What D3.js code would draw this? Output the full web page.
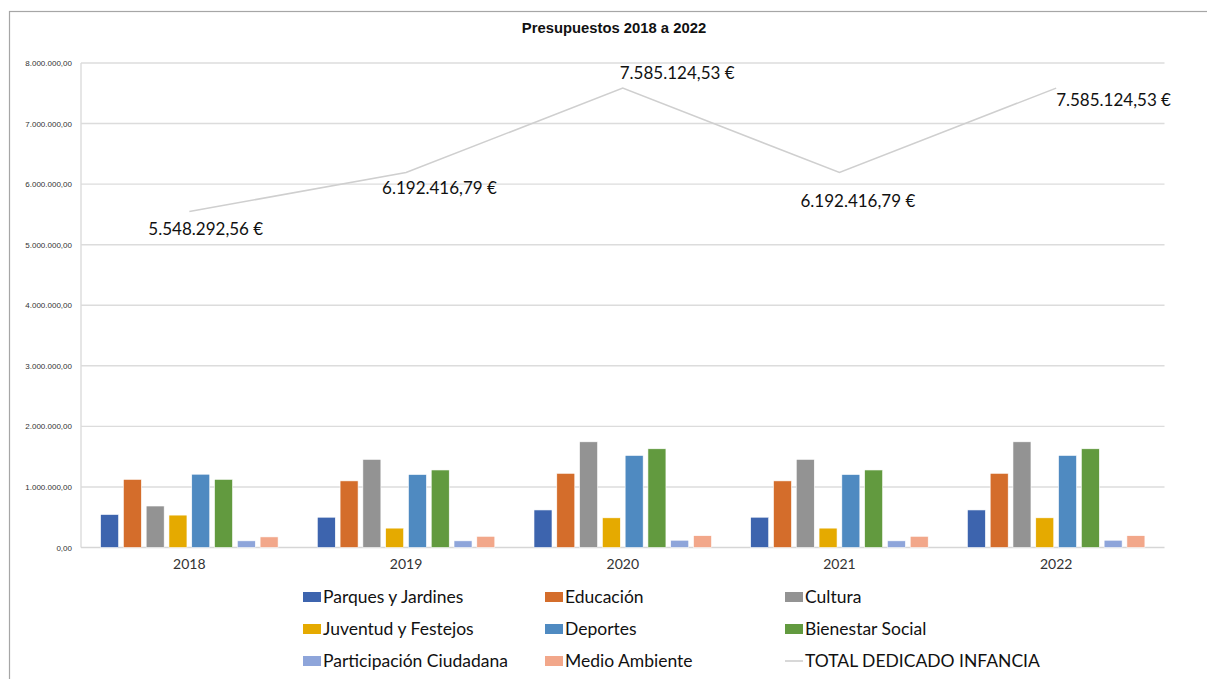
<!DOCTYPE html>
<html>
<head>
<meta charset="utf-8">
<script src="https://cdn.jsdelivr.net/npm/d3@7"></script>
<style>
  html, body { margin: 0; padding: 0; background: #fff; }
  svg { display: block; }
</style>
</head>
<body>
<svg id="chart" width="1207" height="679"></svg>
<script>
// ---- data ----
const years = ["2018", "2019", "2020", "2021", "2022"];
const seriesNames = ["Parques y Jardines", "Educación", "Cultura", "Juventud y Festejos", "Deportes", "Bienestar Social", "Participación Ciudadana", "Medio Ambiente"];
const parques      = [545000, 500000, 620000, 500000, 620000];
const educacion    = [1125000, 1100000, 1225000, 1100000, 1225000];
const cultura      = [685000, 1455000, 1745000, 1455000, 1745000];
const juventud     = [535000, 320000, 490000, 320000, 490000];
const deportes     = [1210000, 1205000, 1520000, 1205000, 1520000];
const bienestar    = [1125000, 1280000, 1630000, 1280000, 1630000];
const participacion = [110000, 110000, 120000, 110000, 120000];
const medioAmbiente = [175000, 185000, 195000, 185000, 195000];
const totalInfancia = [5548292.56, 6192416.79, 7585124.53, 6192416.79, 7585124.53];
const totalName = "TOTAL DEDICADO INFANCIA";
const yTicks = [0, 1000000, 2000000, 3000000, 4000000, 5000000, 6000000, 7000000, 8000000];
const title = "Presupuestos 2018 a 2022";

// ---- styles / layout ----
const colors = ["#3d64ae", "#d46d2b", "#939393", "#e5aa00", "#4f8ac1", "#629a3f", "#8ea5da", "#f2a78a"];
const lineColor = "#cfcfcf";
const labelOffsets = [[-41, 18], [-24, 16], [-3, -15], [-39, 29], [0, 12]];

const allSeries = [parques, educacion, cultura, juventud, deportes, bienestar, participacion, medioAmbiente];

const svg = d3.select("#chart");
const plot = { left: 81, right: 1164.5, top: 63, bottom: 547.5 };

// outer frame
svg.append("rect").attr("x", 9.5).attr("y", 11.5).attr("width", 1300).attr("height", 800)
  .attr("fill", "none").attr("stroke", "#a6a6a6").attr("stroke-width", 1.2);

svg.append("text").attr("x", 614).attr("y", 33).attr("text-anchor", "middle")
  .attr("font-family", "Liberation Sans, Arial, sans-serif").attr("font-weight", "bold")
  .attr("font-size", 14.8).attr("fill", "#111").text(title);

const y = d3.scaleLinear().domain([0, 8000000]).range([plot.bottom, plot.top]);
const x0 = d3.scaleBand().domain(years).range([plot.left, plot.right]).padding(0);
const x1 = d3.scaleBand().domain(d3.range(seriesNames.length)).range([0, x0.bandwidth()])
  .paddingInner(0.21).paddingOuter(0.86);

// gridlines
svg.append("g").selectAll("line").data(yTicks.filter(d => d > 0)).join("line")
  .attr("x1", plot.left).attr("x2", plot.right)
  .attr("y1", d => y(d)).attr("y2", d => y(d))
  .attr("stroke", "#dcdcdc").attr("stroke-width", 1.4);

// left axis labels
const fmt = v => {
  const s = d3.format(",.2f")(v);
  return s.replace(/,/g, "#").replace(".", ",").replace(/#/g, ".");
};
const yAxis = d3.axisLeft(y).tickValues(yTicks).tickFormat(fmt).tickSize(0).tickPadding(9);
const gy = svg.append("g").attr("transform", `translate(${plot.left},0)`).call(yAxis);
gy.select(".domain").remove();
gy.selectAll("text").attr("font-family", "Liberation Sans, Arial, sans-serif")
  .attr("font-size", 8).attr("fill", "#333");

// plot-area left border and baseline
svg.append("line").attr("x1", plot.left).attr("x2", plot.left).attr("y1", plot.top).attr("y2", plot.bottom)
  .attr("stroke", "#dcdcdc").attr("stroke-width", 1.4);
svg.append("line").attr("x1", plot.left).attr("x2", plot.right).attr("y1", plot.bottom).attr("y2", plot.bottom)
  .attr("stroke", "#d6d6d6").attr("stroke-width", 1.4);

// bars
const groups = svg.append("g").selectAll("g").data(years).join("g")
  .attr("transform", d => `translate(${x0(d)},0)`);
groups.selectAll("rect").data((yr, i) => allSeries.map((s, k) => ({ k, v: s[i] }))).join("rect")
  .attr("x", d => x1(d.k)).attr("width", x1.bandwidth())
  .attr("y", d => y(d.v)).attr("height", d => y(0) - y(d.v))
  .attr("fill", d => colors[d.k]).attr("stroke", "#ffffff").attr("stroke-width", 0.6);

// x axis labels
const xAxis = d3.axisBottom(x0).tickSize(0).tickPadding(12);
const gx = svg.append("g").attr("transform", `translate(0,${plot.bottom})`).call(xAxis);
gx.select(".domain").remove();
gx.selectAll("text").attr("font-family", "Lato, sans-serif").attr("font-size", 14).attr("fill", "#333");

// total line
const cx = d => x0(d) + x0.bandwidth() / 2;
const line = d3.line().x((d, i) => cx(years[i])).y(d => y(d));
svg.append("path").datum(totalInfancia).attr("d", line)
  .attr("fill", "none").attr("stroke", lineColor).attr("stroke-width", 1.6);

const eur = v => {
  const s = d3.format(",.2f")(v);
  return s.replace(/,/g, "#").replace(".", ",").replace(/#/g, ".") + " €";
};
svg.append("g").selectAll("text").data(totalInfancia).join("text")
  .attr("x", (d, i) => cx(years[i]) + labelOffsets[i][0])
  .attr("y", (d, i) => y(d) + labelOffsets[i][1])
  .attr("dy", "0.35em")
  .attr("font-family", "Lato, sans-serif").attr("font-size", 17).attr("fill", "#111")
  .text(d => eur(d));

// legend
const legendCols = [303, 545, 785];
const legendRows = [597, 629, 661];
const legendItems = seriesNames.map((n, k) => ({ name: n, color: colors[k], type: "bar" }))
  .concat([{ name: totalName, color: lineColor, type: "line" }]);
const lg = svg.append("g").selectAll("g").data(legendItems).join("g")
  .attr("transform", (d, i) => `translate(${legendCols[i % 3]},${legendRows[Math.floor(i / 3)]})`);
lg.filter(d => d.type === "bar").append("rect")
  .attr("x", 0).attr("y", -5).attr("width", 18).attr("height", 10).attr("fill", d => d.color);
lg.filter(d => d.type === "line").append("line")
  .attr("x1", 0).attr("x2", 18).attr("y1", 0).attr("y2", 0)
  .attr("stroke", d => d.color).attr("stroke-width", 1.6);
lg.append("text").attr("x", 20).attr("y", 0).attr("dy", "0.35em")
  .attr("font-family", "Lato, sans-serif").attr("font-size", 17.5).attr("fill", "#111")
  .text(d => d.name);
</script>
</body>
</html>
